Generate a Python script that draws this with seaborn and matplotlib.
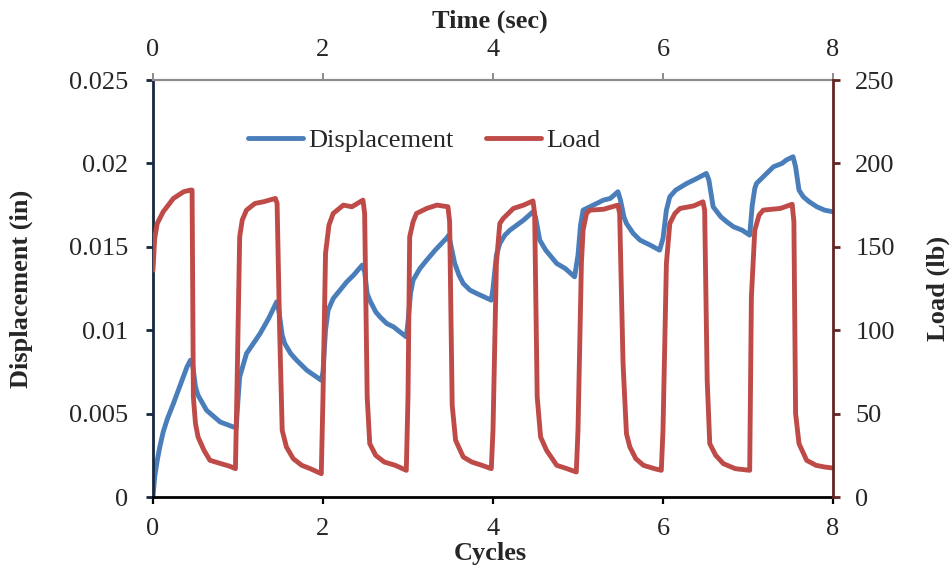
import numpy as np
import pandas as pd
import matplotlib
matplotlib.use("Agg")
import matplotlib.pyplot as plt
from matplotlib.ticker import FuncFormatter
import seaborn as sns

# ---- data ----
load_cycles = [0, 0.02, 0.05, 0.12, 0.24, 0.36, 0.44, 0.46, 0.475, 0.5, 0.53, 0.6, 0.67, 0.8, 0.9, 0.97,
               0.99, 1.02, 1.05, 1.1, 1.2, 1.3, 1.44, 1.46, 1.49, 1.52, 1.57, 1.65, 1.75, 1.85, 1.98,
               2.0, 2.03, 2.07, 2.12, 2.24, 2.34, 2.47, 2.49, 2.52, 2.55, 2.62, 2.72, 2.85, 2.98,
               3.0, 3.02, 3.06, 3.1, 3.22, 3.34, 3.47, 3.49, 3.52, 3.56, 3.65, 3.75, 3.87, 3.98,
               4.0, 4.04, 4.08, 4.12, 4.24, 4.36, 4.47, 4.49, 4.52, 4.56, 4.63, 4.75, 4.87, 4.98,
               5.0, 5.04, 5.06, 5.1, 5.14, 5.3, 5.47, 5.49, 5.53, 5.57, 5.61, 5.68, 5.77, 5.9, 5.98,
               6.0, 6.04, 6.08, 6.14, 6.2, 6.36, 6.47, 6.49, 6.52, 6.55, 6.62, 6.71, 6.85, 7.02,
               7.04, 7.08, 7.13, 7.18, 7.38, 7.52, 7.54, 7.56, 7.6, 7.69, 7.8, 7.9, 7.98, 8.0]
load_lb = [136, 155, 164, 171, 179, 183, 184, 184, 60, 44, 36, 28, 22, 20, 18.5, 17,
           70, 156, 166, 172, 176, 177, 179, 176, 100, 40, 30, 23, 19, 17, 14,
           60, 146, 163, 170, 175, 174, 178, 170, 60, 32, 25, 21, 19, 16,
           60, 156, 165, 170, 173, 175, 174, 165, 55, 34, 24, 21, 19, 17,
           40, 140, 164, 167, 173, 175, 177.5, 170, 60, 36, 28, 19, 17, 15,
           40, 140, 160, 170, 172, 172.5, 175, 170, 80, 38, 30, 23, 19, 17, 16,
           40, 140, 164, 170, 173, 174.5, 177, 172, 70, 32, 25, 20, 17, 16,
           120, 160, 169, 172, 173, 175.5, 165, 50, 32, 22, 19, 18, 17.5, 17.5]

disp_cycles = [0, 0.02, 0.05, 0.08, 0.12, 0.17, 0.24, 0.32, 0.40, 0.44, 0.47, 0.5, 0.53, 0.63, 0.79, 0.945, 0.98,
               1.0, 1.02, 1.1, 1.18, 1.26, 1.36, 1.455, 1.48, 1.52, 1.55, 1.62, 1.69, 1.81, 1.98,
               2.0, 2.03, 2.06, 2.12, 2.2, 2.28, 2.36, 2.46, 2.49, 2.52, 2.55, 2.62, 2.67, 2.75, 2.83, 2.98,
               3.0, 3.03, 3.06, 3.14, 3.22, 3.32, 3.45, 3.48, 3.5, 3.55, 3.6, 3.65, 3.73, 3.81, 3.98,
               4.0, 4.04, 4.08, 4.14, 4.2, 4.28, 4.36, 4.47, 4.5, 4.55, 4.62, 4.75, 4.85, 4.96,
               5.0, 5.03, 5.06, 5.14, 5.22, 5.3, 5.38, 5.47, 5.5, 5.54, 5.57, 5.65, 5.73, 5.85, 5.96,
               6.0, 6.04, 6.08, 6.15, 6.28, 6.4, 6.51, 6.54, 6.59, 6.68, 6.75, 6.83, 6.93, 7.02,
               7.05, 7.08, 7.1, 7.18, 7.3, 7.4, 7.45, 7.53, 7.56, 7.6, 7.65, 7.72, 7.81, 7.9, 8.0]
disp_in = [0, 0.0012, 0.0022, 0.0030, 0.0039, 0.0047, 0.0056, 0.0067, 0.0078, 0.0082, 0.0078, 0.0066, 0.0061, 0.0052, 0.0045, 0.0042, 0.0042,
           0.0058, 0.0072, 0.0086, 0.0092, 0.0098, 0.0107, 0.0117, 0.0112, 0.0097, 0.0092, 0.0086, 0.0082, 0.0076, 0.0070,
           0.0075, 0.0100, 0.0112, 0.0119, 0.0124, 0.0129, 0.0133, 0.0139, 0.0135, 0.0122, 0.0118, 0.0111, 0.0108, 0.0104, 0.0102, 0.0096,
           0.0105, 0.0122, 0.0130, 0.0137, 0.0142, 0.0148, 0.0155, 0.0157, 0.0152, 0.0140, 0.0133, 0.0128, 0.0124, 0.0122, 0.0118,
           0.0125, 0.0145, 0.0152, 0.0157, 0.0160, 0.0163, 0.0166, 0.0171, 0.0168, 0.0154, 0.0148, 0.0140, 0.0137, 0.0132,
           0.0145, 0.0163, 0.0172, 0.0174, 0.0176, 0.0178, 0.0179, 0.0183, 0.0178, 0.0168, 0.0164, 0.0158, 0.0154, 0.0151, 0.0148,
           0.0155, 0.0172, 0.0180, 0.0184, 0.0188, 0.0191, 0.0194, 0.0190, 0.0174, 0.0168, 0.0165, 0.0162, 0.0160, 0.0157,
           0.0175, 0.0185, 0.0188, 0.0192, 0.0198, 0.0200, 0.0202, 0.0204, 0.0198, 0.0184, 0.0180, 0.0177, 0.0174, 0.0172, 0.0171]

x_ticks = [0, 2, 4, 6, 8]
disp_ticks = [0, 0.005, 0.01, 0.015, 0.02, 0.025]
load_ticks = [0, 50, 100, 150, 200, 250]

disp_df = pd.DataFrame({"Cycles": disp_cycles, "Displacement": disp_in})
load_df = pd.DataFrame({"Cycles": load_cycles, "Load": load_lb})

# ---- style ----
sns.set_style("white")
plt.rcParams["font.family"] = ["Liberation Serif", "DejaVu Serif"]

BLUE = "#4A7EBB"
RED = "#BE4B48"
NAVY = "#17273F"
DARKRED = "#632523"
GRAY = "#8C8C8C"
FS = 19

fig = plt.figure(figsize=(9.52, 5.69), dpi=100)
ax = fig.add_axes([0.1607, 0.1265, 0.7143, 0.7329])
ax_top = ax.twiny()
ax2 = ax.twinx()

sns.lineplot(data=disp_df, x="Cycles", y="Displacement", ax=ax, color=BLUE, lw=3.5,
             sort=False, estimator=None, label="Displacement", legend=False)
sns.lineplot(data=load_df, x="Cycles", y="Load", ax=ax2, color=RED, lw=3.5,
             sort=False, estimator=None, label="Load", legend=False)
for a in (ax, ax2):
    for ln in a.get_lines():
        ln.set_solid_capstyle("round")
        ln.set_solid_joinstyle("round")

ax.set_xlim(0, 8)
ax_top.set_xlim(0, 8)
ax.set_ylim(0, 0.025)
ax2.set_ylim(0, 250)

ax.set_xticks(x_ticks)
ax_top.set_xticks(x_ticks)
ax.set_yticks(disp_ticks)
ax2.set_yticks(load_ticks)
fmt = FuncFormatter(lambda v, p: f"{v:g}")
ax.yaxis.set_major_formatter(fmt)
ax.xaxis.set_major_formatter(fmt)
ax_top.xaxis.set_major_formatter(fmt)
ax2.yaxis.set_major_formatter(fmt)

# spines
for a in (ax, ax_top, ax2):
    for s in a.spines.values():
        s.set_visible(False)
ax.spines["left"].set_visible(True)
ax.spines["left"].set_color(NAVY)
ax.spines["left"].set_linewidth(2.0)
ax.spines["bottom"].set_visible(True)
ax.spines["bottom"].set_color("black")
ax.spines["bottom"].set_linewidth(2.0)
ax_top.spines["top"].set_visible(True)
ax_top.spines["top"].set_color(GRAY)
ax_top.spines["top"].set_linewidth(1.6)
ax2.spines["right"].set_visible(True)
ax2.spines["right"].set_color(DARKRED)
ax2.spines["right"].set_linewidth(2.0)

ax.tick_params(axis="y", direction="out", length=5, width=2.0, color=NAVY,
               labelsize=FS, pad=13, left=True, right=False)
ax.tick_params(axis="x", direction="out", length=5, width=1.6, color="black",
               labelsize=FS, pad=10, bottom=True, top=False)
ax_top.tick_params(axis="x", direction="out", length=5, width=1.4, color=GRAY,
                   labelsize=FS, pad=9, top=True, bottom=False)
ax2.tick_params(axis="y", direction="out", length=5, width=2.0, color=DARKRED,
                labelsize=FS, pad=11, right=True, left=False)

ax.set_xlabel("Cycles", fontsize=FS, fontweight="bold")
ax_top.set_xlabel("Time (sec)", fontsize=FS, fontweight="bold")
ax.set_ylabel("Displacement (in)", fontsize=FS, fontweight="bold")
ax2.set_ylabel("Load (lb)", fontsize=FS, fontweight="bold")
ax.xaxis.set_label_coords(0.496, -0.108)
ax_top.xaxis.set_label_coords(0.496, 1.125)
ax.yaxis.set_label_coords(-0.176, 0.5)
ax2.yaxis.set_label_coords(1.138, 0.5)

handles = ax.get_lines()[:1] + ax2.get_lines()[:1]
leg = ax2.legend(handles, ["Displacement", "Load"], loc="center left",
                 bbox_to_anchor=(0.124, 0.856), ncol=2, frameon=False,
                 fontsize=FS, handlelength=2.1, handletextpad=0.2,
                 columnspacing=1.2, borderaxespad=0)

ax.grid(False)
ax2.grid(False)
ax_top.grid(False)

fig.savefig("out.png", dpi=100)
